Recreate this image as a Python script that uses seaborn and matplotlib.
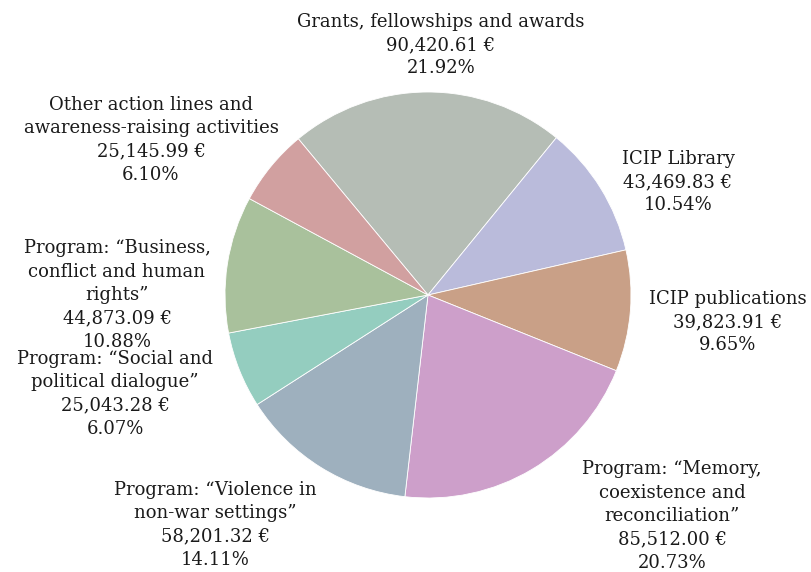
import matplotlib
matplotlib.use("Agg")
import matplotlib.pyplot as plt
import seaborn as sns

sns.set_theme(style="white")
plt.rcParams['font.family'] = ['DejaVu Serif', 'DejaVu Sans']

categories = [
    "Grants, fellowships and awards",
    "ICIP Library",
    "ICIP publications",
    "Program: \u201cMemory,\ncoexistence and\nreconciliation\u201d",
    "Program: \u201cViolence in\nnon-war settings\u201d",
    "Program: \u201cSocial and\npolitical dialogue\u201d",
    "Program: \u201cBusiness,\nconflict and human\nrights\u201d",
    "Other action lines and\nawareness-raising activities",
]
values = [90420.61, 43469.83, 39823.91, 85512.00, 58201.32, 25043.28, 44873.09, 25145.99]
colors = ["#b5bdb5", "#babbdb", "#c9a087", "#cd9fca", "#9eb0be", "#94cdbf", "#a9c19c", "#d1a0a0"]

# label block centres (figure pixels, y from top)
label_pos = [(441, 45), (678, 182), (728, 322), (672, 516),
             (215, 525), (115, 394), (117, 295), (151, 140)]

W, H = 812, 572
fig = plt.figure(figsize=(W / 100, H / 100), dpi=100)
ax = fig.add_axes([0, 0, 1, 1])
ax.set_xlim(0, W)
ax.set_ylim(0, H)
ax.set_aspect('equal')
ax.axis('off')

total = sum(values)
ax.pie(values, colors=colors, startangle=129.7, counterclock=False,
       center=(428, H - 295), radius=203,
       wedgeprops=dict(edgecolor='white', linewidth=0.6), frame=False)
ax.set_xlim(0, W)
ax.set_ylim(0, H)

for cat, v, (x, y) in zip(categories, values, label_pos):
    txt = f"{cat}\n{v:,.2f} \u20ac\n{100 * v / total:.2f}%"
    ax.text(x, H - y, txt, ha='center', va='center', fontsize=13,
            color='#1a1a1a', linespacing=1.38, multialignment='center')

fig.savefig("out.png", dpi=100)
